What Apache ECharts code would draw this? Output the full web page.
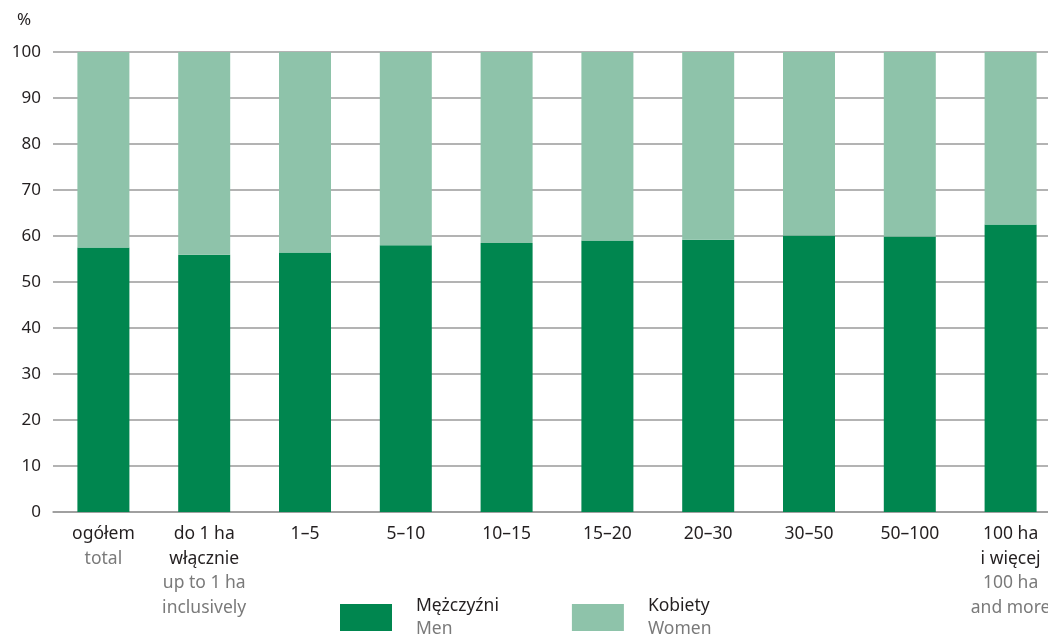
<!DOCTYPE html>
<html>
<head>
<meta charset="utf-8">
<script src="https://cdn.jsdelivr.net/npm/echarts@6/dist/echarts.min.js"></script>
<style>
  html, body { margin: 0; padding: 0; background: #fff; }
  #chart { width: 1048px; height: 635px; }
</style>
</head>
<body>
<div id="chart"></div>
<script>
// 分类（波兰语 / 英语）
const catPl = ['ogółem', 'do 1 ha\nwłącznie', '1–5', '5–10', '10–15', '15–20', '20–30', '30–50', '50–100', '100 ha\ni więcej'];
const catEn = ['total', 'up to 1 ha\ninclusively', '', '', '', '', '', '', '', '100 ha\nand more'];
// 数据
const men = [57.5, 55.9, 56.4, 58.0, 58.5, 59.0, 59.2, 60.1, 59.9, 62.5];
const women = [42.5, 44.1, 43.6, 42.0, 41.5, 41.0, 40.8, 39.9, 40.1, 37.5];
const yTicks = [0, 10, 20, 30, 40, 50, 60, 70, 80, 90, 100];

const textColor = '#231f20';
const subColor = '#7a7a7a';
const colorList = ['#00864f', '#8ec3aa'];
const font = '"Noto Sans", sans-serif';
const fs = 17.5;

let chart = echarts.init(document.getElementById('chart'));

// x轴标签：上面波兰语，下面英语
const xLabels = catPl.map((p, i) => {
  let s = p.split('\n').map(t => '{pl|' + t + '}').join('\n');
  if (catEn[i]) s += '\n' + catEn[i].split('\n').map(t => '{en|' + t + '}').join('\n');
  return s;
});

const option = {
  backgroundColor: '#fff',
  animation: false,
  title: {
    text: '%',
    left: 12,
    top: 7,
    textStyle: { color: textColor, fontSize: 17, fontWeight: 'normal', fontFamily: font }
  },
  grid: { left: 53, top: 52, width: 1008, height: 460, outerBoundsMode: 'none', containLabel: false },
  legend: {
    left: 340,
    top: 597,
    padding: 0,
    itemWidth: 52,
    itemHeight: 27,
    itemGap: 73,
    icon: 'rect',
    data: ['Mężczyźni', 'Kobiety'],
    formatter: function (name) {
      const en = name === 'Mężczyźni' ? 'Men' : 'Women';
      return '{pl|' + name + '}\n{en|' + en + '}';
    },
    textStyle: {
      padding: [0, 0, 0, 19],
      rich: {
        pl: { color: textColor, fontSize: fs, fontFamily: font, lineHeight: 23 },
        en: { color: subColor, fontSize: fs, fontFamily: font, lineHeight: 23 }
      }
    }
  },
  xAxis: {
    type: 'category',
    data: xLabels,
    axisLine: { lineStyle: { color: '#9a9a9a', width: 1.5 } },
    axisTick: { show: false },
    axisLabel: {
      interval: 0,
      margin: 10,
      rich: {
        pl: { color: textColor, fontSize: fs, fontFamily: font, lineHeight: 24.5 },
        en: { color: subColor, fontSize: fs, fontFamily: font, lineHeight: 24.5 }
      }
    }
  },
  yAxis: {
    type: 'value',
    min: yTicks[0],
    max: yTicks[yTicks.length - 1],
    interval: 10,
    axisLine: { show: false },
    axisTick: { show: false },
    axisLabel: { color: textColor, fontSize: 17, fontFamily: font, margin: 12 },
    splitLine: { lineStyle: { color: '#9a9a9a', width: 1.5 } }
  },
  series: [
    {
      name: 'Mężczyźni',
      type: 'bar',
      stack: 'total',
      barWidth: 52,
      data: men,
      itemStyle: { color: colorList[0] }
    },
    {
      name: 'Kobiety',
      type: 'bar',
      stack: 'total',
      barWidth: 52,
      data: women,
      itemStyle: { color: colorList[1] }
    }
  ]
};

chart.setOption(option);
</script>
</body>
</html>
